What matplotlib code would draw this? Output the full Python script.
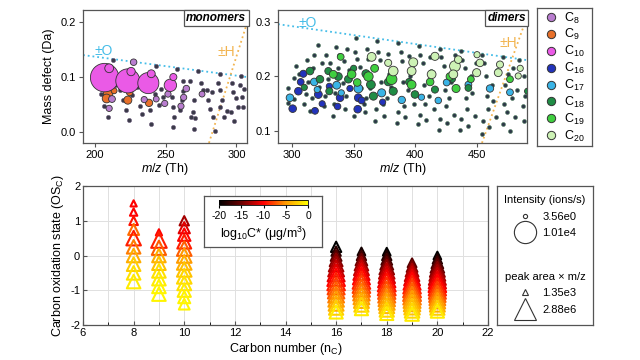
import numpy as np
import matplotlib.pyplot as plt
from matplotlib.colors import LinearSegmentedColormap, Normalize
from matplotlib.cm import ScalarMappable
from matplotlib.lines import Line2D

plt.rcParams['font.family'] = ['Liberation Sans', 'DejaVu Sans']
plt.rcParams['mathtext.fontset'] = 'custom'
plt.rcParams['mathtext.rm'] = 'Liberation Sans'
plt.rcParams['mathtext.it'] = 'Liberation Sans:italic'
plt.rcParams['mathtext.bf'] = 'Liberation Sans:bold'
plt.rcParams['axes.unicode_minus'] = False

# ---------------- monomers (m/z, mass defect) ----------------
mono_dot_mz = [212.5, 242.8, 258.1, 272.9, 288.2, 303.5,
               204.2, 206.6, 208.9, 217.6, 220.0, 221.9, 224.2, 229.4, 231.8, 238.8,
               239.5, 242.4, 246.4, 247.8, 251.5, 254.1, 255.3, 256.0, 254.9, 261.2,
               260.0, 262.4, 262.0, 267.1, 268.2, 269.9, 269.4, 270.6, 269.9, 274.8,
               276.5, 279.5, 280.0, 281.6, 283.0, 283.5, 284.7, 287.1, 288.2, 290.1,
               288.2, 291.3, 293.0, 297.2, 297.6, 300.0, 301.2, 296.5, 302.4, 305.2,
               304.2, 304.7, 298.0, 226.5, 233.5, 245.0, 214.0]
mono_dot_md = [0.131, 0.121, 0.115, 0.111, 0.105, 0.102,
               0.069, 0.048, 0.027, 0.077, 0.058, 0.040, 0.021, 0.081, 0.048, 0.040,
               0.015, 0.069, 0.078, 0.064, 0.086, 0.064, 0.046, 0.028, 0.010, 0.058,
               0.040, 0.075, 0.093, 0.092, 0.027, 0.058, 0.037, 0.025, 0.006, 0.089,
               0.077, 0.077, 0.058, 0.042, 0.073, 0.028, 0.001, 0.090, 0.077, 0.058,
               0.045, 0.027, 0.038, 0.090, 0.073, 0.061, 0.046, 0.037, 0.086, 0.078,
               0.064, 0.046, 0.020, 0.067, 0.032, 0.050, 0.085]

c8_mz = [227.3, 212.0, 210.0, 234.8, 243.3, 249.3, 251.6, 264.6, 262.7, 260.8, 275.7]
c8_md = [0.127, 0.060, 0.043, 0.059, 0.060, 0.052, 0.069, 0.079, 0.063, 0.047, 0.069]
c8_s = [22, 24, 20, 20, 18, 20, 20, 22, 20, 20, 18]

c9_mz = [209.3, 208.2, 223.2, 238.2, 224.5, 213.5]
c9_md = [0.070, 0.061, 0.058, 0.053, 0.072, 0.075]
c9_s = [45, 40, 34, 28, 22, 18]

c10_mz = [206.8, 223.2, 237.7, 253.3, 210.0, 225.5, 239.8, 255.4]
c10_md = [0.099, 0.093, 0.089, 0.085, 0.116, 0.110, 0.106, 0.100]
c10_s = [420, 300, 230, 80, 40, 36, 32, 26]

# ---------------- dimers ----------------
dim_dot_mz = [297, 297, 302, 302, 303, 306, 310, 311, 312, 313,
              315, 316, 317, 318, 321, 322, 324, 326, 327, 328, 329, 331,
              333, 334, 335, 336, 337, 338, 341, 342, 343, 344, 345, 346, 347,
              350, 351, 352, 353, 355, 356, 358, 359, 360, 361, 362, 363,
              367, 368, 369, 370, 371, 372, 374, 375, 377, 378, 379, 380,
              385, 386, 386, 388, 389, 390, 391, 392, 394, 395, 396, 399,
              402, 403, 404, 404, 406, 407, 408, 409, 411, 412, 413, 415,
              419, 420, 420, 421, 423, 424, 425, 426, 427, 429, 431, 432,
              436, 437, 437, 438, 440, 441, 442, 443, 445, 446, 448, 449,
              454, 454, 455, 456, 457, 458, 459, 460, 462, 463, 465, 466,
              471, 471, 472, 473, 474, 475, 477, 478, 479, 481, 482, 484,
              487, 488, 488, 489]
dim_dot_md = [0.152, 0.178, 0.158, 0.198, 0.220, 0.205, 0.150, 0.168, 0.230, 0.190,
              0.136, 0.160, 0.215, 0.240, 0.258, 0.180, 0.225, 0.145, 0.165, 0.240, 0.195, 0.225,
              0.128, 0.150, 0.170, 0.255, 0.215, 0.240, 0.188, 0.228, 0.140, 0.165, 0.250, 0.212, 0.195,
              0.127, 0.245, 0.271, 0.232, 0.218, 0.178, 0.150, 0.135, 0.160, 0.250, 0.232, 0.178,
              0.118, 0.140, 0.266, 0.245, 0.230, 0.190, 0.150, 0.128, 0.160, 0.242, 0.205, 0.180,
              0.115, 0.261, 0.135, 0.245, 0.228, 0.190, 0.145, 0.125, 0.175, 0.238, 0.200, 0.150,
              0.113, 0.256, 0.130, 0.240, 0.224, 0.185, 0.150, 0.120, 0.165, 0.235, 0.210, 0.140,
              0.101, 0.251, 0.122, 0.235, 0.220, 0.175, 0.145, 0.115, 0.160, 0.190, 0.130, 0.240,
              0.101, 0.246, 0.122, 0.230, 0.215, 0.160, 0.140, 0.110, 0.200, 0.170, 0.128, 0.225,
              0.095, 0.240, 0.118, 0.225, 0.200, 0.165, 0.140, 0.108, 0.185, 0.155, 0.125, 0.212,
              0.235, 0.112, 0.150, 0.185, 0.135, 0.205, 0.100, 0.160, 0.215, 0.125, 0.175, 0.230,
              0.145, 0.200, 0.118, 0.165]

c16_mz = [300.6, 305.2, 307.1, 309.2, 318.7, 321.4, 330.3, 339.0, 347.0, 353.8, 353.3, 356.5, 373.5, 337.0, 324.5]
c16_md = [0.141, 0.173, 0.190, 0.205, 0.137, 0.167, 0.182, 0.161, 0.178, 0.161, 0.140, 0.156, 0.153, 0.145, 0.150]
c16_s = [30, 30, 24, 26, 24, 32, 20, 30, 20, 32, 30, 24, 20, 22, 20]

c17_mz = [298.4, 318.1, 336.3, 353.8, 372.7, 389.0, 418.6, 425.4, 443.0, 460.5, 476.7, 320.5, 340.0, 405.0]
c17_md = [0.161, 0.190, 0.184, 0.178, 0.170, 0.157, 0.156, 0.189, 0.185, 0.178, 0.171, 0.176, 0.170, 0.162]
c17_s = [30, 30, 32, 40, 34, 28, 22, 24, 24, 28, 24, 20, 20, 20]

c18_mz = [314.6, 322.7, 329.5, 337.6, 330.3, 345.7, 366.0, 382.1, 399.7, 415.9, 443.0, 491.0,
          360.0, 364.0, 378.0, 310.0, 395.0, 350.0, 430.0]
c18_md = [0.210, 0.195, 0.210, 0.200, 0.173, 0.195, 0.164, 0.173, 0.167, 0.176, 0.179, 0.173,
          0.205, 0.185, 0.190, 0.180, 0.190, 0.215, 0.195]
c18_s = [30, 30, 26, 32, 26, 30, 34, 34, 30, 26, 24, 20, 34, 40, 30, 20, 26, 20, 20]

c19_mz = [333.5, 339.5, 348.4, 352.9, 362.0, 380.8, 397.0, 433.0, 476.7, 367.0, 412.0, 428.0, 445.0]
c19_md = [0.204, 0.236, 0.204, 0.189, 0.200, 0.195, 0.185, 0.178, 0.195, 0.215, 0.190, 0.200, 0.195]
c19_s = [32, 24, 38, 30, 46, 58, 40, 34, 24, 32, 30, 30, 24]

c20_mz = [364.6, 382.1, 398.3, 397.0, 413.2, 415.9, 432.1, 430.8, 449.7, 452.4, 467.2, 468.6,
          483.4, 434.8, 378.0, 450.0, 485.0]
c20_md = [0.236, 0.210, 0.226, 0.210, 0.204, 0.237, 0.219, 0.204, 0.207, 0.225, 0.207, 0.222,
          0.201, 0.231, 0.225, 0.240, 0.215]
c20_s = [40, 48, 42, 40, 40, 34, 60, 40, 34, 30, 32, 26, 20, 30, 26, 20, 20]

carbon_labels = ['C$_{8}$', 'C$_{9}$', 'C$_{10}$', 'C$_{16}$', 'C$_{17}$', 'C$_{18}$', 'C$_{19}$', 'C$_{20}$']
carbon_colors = ['#b97dcf', '#e8702a', '#ea5ae6', '#2233bb', '#3ab4e6', '#1f8c45', '#3fcf3f', '#cdf2b5']

# ---------------- carbon oxidation state ----------------
nc_list = [8, 9, 10, 16, 17, 18, 19, 20]
os_list = [
    [1.5, 1.25, 1.0, 0.75, 0.5, 0.25, 0.0, -0.25, -0.5, -0.75],
    [0.667, 0.444, 0.222, 0.0, -0.222, -0.444, -0.667, -0.889, -1.111],
    [1.0, 0.8, 0.6, 0.4, 0.2, 0.0, -0.2, -0.4, -0.6, -0.8, -1.0, -1.2, -1.4],
    [0.25, 0.125, 0.0, -0.125, -0.25, -0.375, -0.5, -0.625, -0.75, -0.875, -1.0, -1.125, -1.25, -1.375, -1.5, -1.625],
    [0.118, 0.0, -0.118, -0.235, -0.353, -0.471, -0.588, -0.706, -0.824, -0.941, -1.059, -1.176, -1.294, -1.412, -1.529],
    [0.111, 0.0, -0.111, -0.222, -0.333, -0.444, -0.556, -0.667, -0.778, -0.889, -1.0, -1.111, -1.222, -1.333, -1.444, -1.556, -1.667],
    [-0.211, -0.316, -0.421, -0.526, -0.632, -0.737, -0.842, -0.947, -1.053, -1.158, -1.263, -1.368, -1.474, -1.579, -1.684],
    [0.0, -0.1, -0.2, -0.3, -0.4, -0.5, -0.6, -0.7, -0.8, -0.9, -1.0, -1.1, -1.2, -1.3, -1.4, -1.5, -1.6],
]
size_list = [
    [20, 28, 38, 62, 110, 95, 95, 95, 95, 95],
    [20, 125, 105, 95, 95, 95, 95, 95, 95],
    [45, 65, 80, 100, 110, 110, 110, 110, 110, 100, 90, 75, 60],
    [55, 45, 60, 85, 110, 130, 150, 160, 160, 150, 140, 130, 125, 115, 105, 90],
    [30, 45, 70, 95, 115, 135, 150, 160, 160, 150, 140, 130, 115, 105, 90],
    [30, 45, 60, 85, 110, 125, 140, 155, 165, 165, 155, 150, 140, 130, 115, 105, 90],
    [40, 60, 85, 110, 130, 150, 160, 165, 165, 160, 150, 140, 125, 110, 95],
    [30, 45, 70, 95, 115, 130, 150, 155, 160, 155, 150, 140, 130, 125, 115, 105, 90],
]
logc_list = [
    [-10, -10, -9.5, -6.5, -9, -6, -4, -2.5, -1.5, -1],
    [-10, -9, -7, -4, -3, -1.5, -1, -0.5, -0.5],
    [-13, -11, -10, -9, -7, -5, -4, -3, -2, -1.5, -1, -0.5, -0.5],
    [-20, -18, -16, -14, -13, -12, -11, -10, -9, -8, -7, -6, -5, -4, -2.5, -1],
    [-19, -17, -15, -13.5, -12, -11, -10, -9, -8, -7, -6, -5, -4, -2.5, -1],
    [-20, -18.5, -17, -15.5, -14, -12.5, -11.5, -10.5, -9.5, -8.5, -7.5, -6.5, -5.5, -4.5, -3.5, -2, -1],
    [-16, -14.5, -13, -12, -11, -10, -9, -8, -7, -6, -5, -4, -3, -2, -1],
    [-20, -18.5, -17, -15.5, -14, -13, -12, -11, -10, -9, -8, -7, -6, -5, -4, -2.5, -1],
]

spine_c = '#555555'
o_col = '#45bde8'
h_col = '#f2b450'

fig = plt.figure(figsize=(6.4, 3.6), dpi=100)


def style(ax):
    for s in ax.spines.values():
        s.set_color(spine_c)
        s.set_linewidth(0.9)
    ax.tick_params(labelsize=8, length=3, color=spine_c, width=0.8, pad=2)


# monomers
ax1 = fig.add_axes([83/640, 1-143/360, 164/640, 133/360])
style(ax1)
ax1.plot([191.5, 307.5], [0.140, 0.100], ls=':', color=o_col, lw=1.3, zorder=1)
ax1.plot([280.6, 307.5], [-0.02, 0.198], ls=':', color=h_col, lw=1.3, zorder=1)
ax1.scatter(mono_dot_mz, mono_dot_md, s=9, c='#3a3a48', edgecolors='#6a5a7a', linewidths=0.4, zorder=2)
ax1.scatter(c9_mz, c9_md, s=c9_s, c=carbon_colors[1], edgecolors='#333333', linewidths=0.6, zorder=3)
ax1.scatter(c8_mz, c8_md, s=c8_s, c=carbon_colors[0], edgecolors='#333333', linewidths=0.6, zorder=3)
ax1.scatter(c10_mz, c10_md, s=c10_s, c=carbon_colors[2], edgecolors='#333333', linewidths=0.6, zorder=4)
ax1.set_xlim(191.5, 307.5)
ax1.set_ylim(-0.02, 0.222)
ax1.set_xticks([200, 250, 300])
ax1.set_yticks([0.0, 0.1, 0.2])
ax1.set_xlabel('$m/z$ (Th)', fontsize=9, labelpad=1)
ax1.set_ylabel('Mass defect (Da)', fontsize=9, labelpad=4)
ax1.text(206, 0.148, '±O', color=o_col, fontsize=10, ha='center', va='center')
ax1.text(293, 0.145, '±H', color=h_col, fontsize=10, ha='center', va='center')
ax1.text(0.995, 0.985, 'monomers', transform=ax1.transAxes, ha='right', va='top', fontsize=8.5,
         fontweight='bold', fontstyle='italic',
         bbox=dict(boxstyle='square,pad=0.2', fc='white', ec=spine_c, lw=0.9))

# dimers
ax2 = fig.add_axes([278/640, 1-143/360, 249/640, 133/360])
style(ax2)
ax2.plot([288.7, 490.5], [0.296, 0.230], ls=':', color=o_col, lw=1.3, zorder=1)
ax2.plot([454, 489], [0.078, 0.30], ls=':', color=h_col, lw=1.3, zorder=1)
ax2.scatter(dim_dot_mz, dim_dot_md, s=8, c='#2e3848', edgecolors='#4a7a5a', linewidths=0.4, zorder=2)
for mz, md, s, col in [(c16_mz, c16_md, c16_s, carbon_colors[3]), (c17_mz, c17_md, c17_s, carbon_colors[4]),
                       (c18_mz, c18_md, c18_s, carbon_colors[5]), (c19_mz, c19_md, c19_s, carbon_colors[6]),
                       (c20_mz, c20_md, c20_s, carbon_colors[7])]:
    ax2.scatter(mz, md, s=s, c=col, edgecolors='#333333', linewidths=0.6, zorder=3)
ax2.set_xlim(288.7, 490.5)
ax2.set_ylim(0.078, 0.322)
ax2.set_xticks([300, 350, 400, 450])
ax2.set_yticks([0.1, 0.2, 0.3])
ax2.set_xlabel('$m/z$ (Th)', fontsize=9, labelpad=1)
ax2.text(313, 0.298, '±O', color=o_col, fontsize=10, ha='center', va='center')
ax2.text(475, 0.262, '±H', color=h_col, fontsize=10, ha='center', va='center')
ax2.text(0.995, 0.985, 'dimers', transform=ax2.transAxes, ha='right', va='top', fontsize=8.5,
         fontweight='bold', fontstyle='italic', zorder=5,
         bbox=dict(boxstyle='square,pad=0.2', fc='white', ec=spine_c, lw=0.9))

# carbon legend
legbox = fig.add_axes([537/640, 1-146/360, 55/640, 138/360])
style(legbox)
legbox.set_xticks([])
legbox.set_yticks([])
handles = [Line2D([], [], marker='o', ls='', mfc=c, mec='#333333', ms=6, mew=0.7) for c in carbon_colors]
legbox.legend(handles, carbon_labels, loc='center', frameon=False, fontsize=9,
              labelspacing=0.14, handletextpad=0.5, handlelength=1.0, borderaxespad=0, borderpad=0)

# carbon oxidation state
cmap = LinearSegmentedColormap.from_list('bkry', [(0, '#000000'), (0.25, '#6a0000'), (0.5, '#ff0000'),
                                                  (0.75, '#ff9a00'), (1.0, '#ffff00')])
norm = Normalize(-20, 0)
ax3 = fig.add_axes([83/640, 1-325/360, 405/640, 139/360])
style(ax3)
ax3.tick_params(which='both', direction='in', length=3)
ax3.tick_params(which='minor', length=2)
for n, os_v, sz, lc in zip(nc_list, os_list, size_list, logc_list):
    ax3.scatter(np.full(len(os_v), n), os_v, s=sz, marker='^', facecolors='none',
                edgecolors=cmap(norm(np.array(lc))), linewidths=1.5, zorder=3)
ax3.set_xlim(6, 22)
ax3.set_ylim(-2, 2)
ax3.set_xticks(range(6, 23, 2))
ax3.set_xticks(range(7, 22, 2), minor=True)
ax3.set_yticks([-2, -1, 0, 1, 2])
ax3.grid(which='both', axis='x', color='#e0e0e0', lw=0.7, zorder=0)
ax3.grid(which='major', axis='y', color='#e0e0e0', lw=0.7, zorder=0)
ax3.set_axisbelow(True)
ax3.set_xlabel('Carbon number (n$_\\mathrm{C}$)', fontsize=9, labelpad=2)
ax3.set_ylabel('Carbon oxidation state (OS$_\\mathrm{C}$)', fontsize=9, labelpad=3)

# colorbar inset
cbox = fig.add_axes([204/640, 1-247/360, 118/640, 51/360])
style(cbox)
cbox.set_xticks([])
cbox.set_yticks([])
cax = fig.add_axes([219/640, 1-205/360, 89/640, 5/360])
cb = fig.colorbar(ScalarMappable(norm=norm, cmap=cmap), cax=cax, orientation='horizontal')
cb.set_ticks([-20, -15, -10, -5, 0])
cb.outline.set_linewidth(0.6)
cax.tick_params(labelsize=7.5, length=2, pad=2)
cax.set_xlabel('log$_{10}$C* (μg/m$^3$)', fontsize=9, labelpad=3)

# size legend
sbox = fig.add_axes([497/640, 1-325/360, 96/640, 139/360])
style(sbox)
sbox.set_xticks([])
sbox.set_yticks([])
h_int = [Line2D([], [], marker='o', ls='', mfc='none', mec='#333333', ms=3, mew=0.8),
         Line2D([], [], marker='o', ls='', mfc='none', mec='#333333', ms=16, mew=0.8)]
h_area = [Line2D([], [], marker='^', ls='', mfc='none', mec='#333333', ms=5, mew=0.8),
          Line2D([], [], marker='^', ls='', mfc='none', mec='#333333', ms=16, mew=0.8)]
leg1 = sbox.legend(h_int, ['3.56e0', '1.01e4'], title='Intensity (ions/s)', loc='upper center',
                   frameon=False, fontsize=8, title_fontsize=8, labelspacing=0.6,
                   handletextpad=0.6, handlelength=2.0, borderaxespad=0.4)
sbox.add_artist(leg1)
sbox.legend(h_area, ['1.35e3', '2.88e6'], title='peak area × m/z', loc='lower center',
            frameon=False, fontsize=8, title_fontsize=8, labelspacing=0.6,
            handletextpad=0.6, handlelength=2.0, borderaxespad=0.5)

fig.savefig('out.png', dpi=100)
